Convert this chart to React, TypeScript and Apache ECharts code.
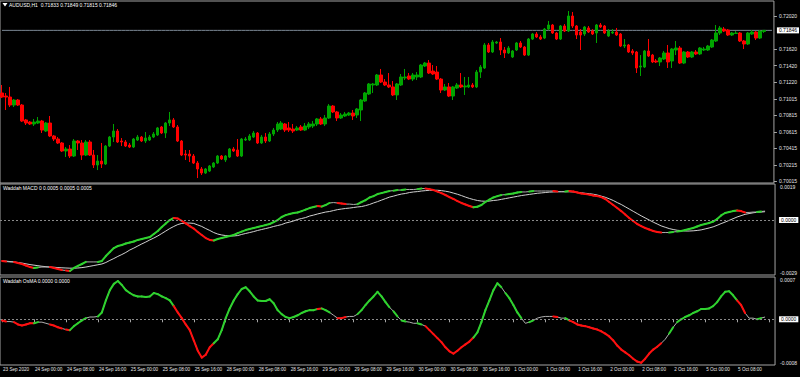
import React, { useEffect, useRef } from "react";
import * as echarts from "echarts";

// ---------- data ----------
const symbolTitle = "AUDUSD,H1";
const macdTitle = "Waddah MACD 0 0.0005 0.0005 0.0005";
const osmaTitle = "Waddah OsMA 0.0000 0.0000";

const xTickLabels = [
  "23 Sep 2020", "24 Sep 00:00", "24 Sep 08:00", "24 Sep 16:00", "25 Sep 00:00", "25 Sep 08:00",
  "25 Sep 16:00", "28 Sep 00:00", "28 Sep 08:00", "28 Sep 16:00", "29 Sep 00:00", "29 Sep 08:00",
  "29 Sep 16:00", "30 Sep 00:00", "30 Sep 08:00", "30 Sep 16:00", "1 Oct 00:00", "1 Oct 08:00",
  "1 Oct 16:00", "2 Oct 00:00", "2 Oct 08:00", "2 Oct 16:00", "5 Oct 00:00", "5 Oct 08:00",
];
const slotCount = 194;
const slots = Array.from({ length: slotCount }, (_, i) => String(i));

const priceTicks = [0.7202, 0.7162, 0.7142, 0.7122, 0.71015, 0.70815, 0.70615, 0.70415, 0.70215, 0.70015];
const priceRange = [0.69996, 0.72202];
const macdRange = [-0.0029, 0.0019];
const osmaRange = [-0.0008, 0.00074];

const open = [
  0.71087, 0.7105, 0.71038, 0.70941, 0.71002, 0.70941, 0.7076, 0.70735, 0.70711, 0.70723,
  0.70747, 0.70626, 0.70723, 0.70566, 0.70529, 0.70481, 0.70384, 0.70408, 0.70323, 0.70505,
  0.70481, 0.70335, 0.70493, 0.70335, 0.70214, 0.70262, 0.70226, 0.70444, 0.70553, 0.70626,
  0.70505, 0.70493, 0.70456, 0.70432, 0.70517, 0.70553, 0.70505, 0.70517, 0.70553, 0.70578,
  0.70675, 0.70602, 0.70723, 0.7076, 0.70675, 0.70505, 0.70347, 0.70347, 0.70323, 0.70238,
  0.70166, 0.70117, 0.70141, 0.7019, 0.70238, 0.70323, 0.70275, 0.70311, 0.70408, 0.70396,
  0.70323, 0.70517, 0.70517, 0.70553, 0.70602, 0.70481, 0.70553, 0.70505, 0.7059, 0.70638,
  0.7065, 0.70711, 0.70663, 0.7065, 0.70638, 0.70675, 0.70638, 0.70675, 0.70687, 0.70711,
  0.70772, 0.70711, 0.70784, 0.70929, 0.70857, 0.70784, 0.70808, 0.7082, 0.70844, 0.7082,
  0.70881, 0.7099, 0.71075, 0.71184, 0.71184, 0.71305, 0.7122, 0.71184, 0.7116, 0.71063,
  0.71184, 0.71269, 0.71293, 0.71256, 0.71281, 0.71281, 0.71414, 0.7145, 0.71353, 0.71341,
  0.71256, 0.71123, 0.7116, 0.7105, 0.71147, 0.71184, 0.7116, 0.7116, 0.71184, 0.7116,
  0.71341, 0.7139, 0.71669, 0.71584, 0.71693, 0.71705, 0.71608, 0.71572, 0.71523, 0.71608,
  0.71693, 0.71644, 0.71547, 0.71741, 0.71802, 0.71766, 0.71753, 0.71862, 0.71911, 0.71814,
  0.71741, 0.71899, 0.71838, 0.7202, 0.71899, 0.71826, 0.71802, 0.71875, 0.71838, 0.71814,
  0.71911, 0.71899, 0.71778, 0.71814, 0.71826, 0.71802, 0.71656, 0.71669, 0.71596, 0.71584,
  0.71402, 0.71402, 0.71596, 0.71547, 0.71475, 0.71463, 0.71499, 0.71572, 0.71475, 0.71608,
  0.71632, 0.7145, 0.71584, 0.71523, 0.71584, 0.7156, 0.71608, 0.71608, 0.71644, 0.71717,
  0.71814, 0.71862, 0.7185, 0.7179, 0.71808, 0.71814, 0.71717, 0.71681, 0.71802, 0.71826,
  0.71753, 0.71833,
];
const close = [
  0.71038, 0.71038, 0.70941, 0.71002, 0.70941, 0.70747, 0.70723, 0.70711, 0.70735, 0.70747,
  0.70638, 0.70723, 0.70566, 0.70529, 0.70481, 0.70384, 0.70408, 0.70323, 0.70505, 0.70481,
  0.70335, 0.70493, 0.70335, 0.70214, 0.70262, 0.70226, 0.70444, 0.70553, 0.70626, 0.70493,
  0.70493, 0.70444, 0.70432, 0.70529, 0.70553, 0.70505, 0.70541, 0.70553, 0.7059, 0.70663,
  0.70602, 0.70723, 0.7076, 0.70675, 0.70505, 0.70335, 0.70335, 0.70323, 0.70238, 0.70166,
  0.70117, 0.70166, 0.70202, 0.70238, 0.70323, 0.70287, 0.70323, 0.70408, 0.70384, 0.70323,
  0.70529, 0.70529, 0.70566, 0.70602, 0.70481, 0.70553, 0.70505, 0.7059, 0.70638, 0.70711,
  0.70723, 0.70638, 0.70638, 0.70626, 0.70663, 0.70638, 0.70687, 0.70711, 0.70711, 0.70772,
  0.70711, 0.70784, 0.70929, 0.70857, 0.70784, 0.7082, 0.70832, 0.70844, 0.70808, 0.70893,
  0.71002, 0.71087, 0.71196, 0.71196, 0.71305, 0.7122, 0.71184, 0.7116, 0.71063, 0.71196,
  0.71281, 0.71281, 0.71256, 0.71305, 0.71305, 0.71426, 0.7145, 0.71329, 0.71317, 0.71256,
  0.71123, 0.7116, 0.7105, 0.7116, 0.71184, 0.7116, 0.71172, 0.71184, 0.7116, 0.71341,
  0.71402, 0.71669, 0.71584, 0.71705, 0.71705, 0.71608, 0.71572, 0.71632, 0.71596, 0.71693,
  0.71644, 0.71547, 0.71741, 0.71802, 0.71766, 0.71741, 0.71862, 0.71911, 0.71814, 0.71741,
  0.71899, 0.71838, 0.7202, 0.71899, 0.7179, 0.7179, 0.71887, 0.71826, 0.71802, 0.71911,
  0.71887, 0.71814, 0.71838, 0.71826, 0.7179, 0.71656, 0.71669, 0.71584, 0.71572, 0.7139,
  0.71414, 0.71596, 0.71535, 0.71463, 0.71463, 0.71511, 0.71572, 0.71463, 0.7162, 0.71632,
  0.7145, 0.71584, 0.71523, 0.71584, 0.7156, 0.71632, 0.7162, 0.71656, 0.71729, 0.71814,
  0.71875, 0.71838, 0.7179, 0.71814, 0.71814, 0.71717, 0.71681, 0.71814, 0.71826, 0.71753,
  0.71838, 0.71846,
];
const low = [
  0.71026, 0.70881, 0.70917, 0.70917, 0.70929, 0.70735, 0.70699, 0.70699, 0.70687, 0.70711,
  0.70602, 0.70614, 0.70553, 0.70505, 0.70469, 0.70372, 0.70311, 0.70299, 0.70311, 0.70396,
  0.70275, 0.70323, 0.70323, 0.70178, 0.70153, 0.70178, 0.70214, 0.70432, 0.70493, 0.70481,
  0.70444, 0.70432, 0.7042, 0.7042, 0.70505, 0.70493, 0.70481, 0.70505, 0.70541, 0.70566,
  0.7059, 0.70541, 0.70687, 0.70663, 0.70493, 0.70323, 0.70275, 0.7025, 0.70226, 0.70056,
  0.70093, 0.70105, 0.70129, 0.70178, 0.70226, 0.70275, 0.7025, 0.70299, 0.70372, 0.70311,
  0.70311, 0.70505, 0.70505, 0.70541, 0.70469, 0.70469, 0.70481, 0.70493, 0.70566, 0.70614,
  0.70638, 0.70614, 0.70614, 0.70602, 0.70626, 0.70626, 0.70626, 0.7065, 0.70663, 0.70687,
  0.70699, 0.70687, 0.70772, 0.70844, 0.70747, 0.70772, 0.70796, 0.70808, 0.7076, 0.70784,
  0.70747, 0.70978, 0.71063, 0.71087, 0.71172, 0.71208, 0.71172, 0.71147, 0.7105, 0.71002,
  0.71172, 0.71244, 0.71244, 0.71232, 0.71244, 0.71269, 0.71402, 0.71317, 0.71305, 0.71244,
  0.71087, 0.71111, 0.71038, 0.71002, 0.71135, 0.71147, 0.71063, 0.71147, 0.71147, 0.71147,
  0.71269, 0.71378, 0.71572, 0.71572, 0.71681, 0.71547, 0.71511, 0.7156, 0.71511, 0.71596,
  0.71632, 0.71535, 0.71535, 0.71729, 0.71753, 0.71729, 0.71741, 0.7185, 0.71802, 0.71729,
  0.71729, 0.71826, 0.71826, 0.71875, 0.71741, 0.71608, 0.71778, 0.71814, 0.7179, 0.71693,
  0.71875, 0.71802, 0.71766, 0.71802, 0.71778, 0.71644, 0.71632, 0.71572, 0.71547, 0.71329,
  0.71293, 0.7139, 0.71523, 0.7145, 0.7145, 0.71414, 0.71487, 0.7139, 0.7139, 0.71547,
  0.71438, 0.71438, 0.71511, 0.71511, 0.71547, 0.71547, 0.71596, 0.71596, 0.71632, 0.71705,
  0.7179, 0.71826, 0.71778, 0.71778, 0.71802, 0.71705, 0.7162, 0.71669, 0.7179, 0.71729,
  0.71741, 0.71815,
];
const high = [
  0.71184, 0.71087, 0.7116, 0.71014, 0.71014, 0.70953, 0.70772, 0.70747, 0.70772, 0.70796,
  0.7076, 0.70735, 0.70808, 0.70578, 0.70553, 0.70493, 0.70432, 0.70456, 0.70529, 0.70517,
  0.70517, 0.70517, 0.70517, 0.70396, 0.70335, 0.70481, 0.70456, 0.70566, 0.70711, 0.7065,
  0.70541, 0.70517, 0.70481, 0.70541, 0.70578, 0.70566, 0.70614, 0.70578, 0.70614, 0.70675,
  0.70687, 0.70735, 0.70857, 0.70784, 0.70699, 0.70517, 0.70396, 0.70396, 0.70347, 0.70262,
  0.7019, 0.70178, 0.70214, 0.7025, 0.70335, 0.70335, 0.70335, 0.7042, 0.70432, 0.70529,
  0.70541, 0.70553, 0.7059, 0.70626, 0.70614, 0.70578, 0.70602, 0.70614, 0.70663, 0.70735,
  0.70747, 0.70723, 0.70735, 0.70711, 0.70687, 0.70699, 0.70723, 0.70735, 0.70747, 0.70784,
  0.70796, 0.7082, 0.70953, 0.70941, 0.70869, 0.70844, 0.70857, 0.70857, 0.70881, 0.70905,
  0.71014, 0.71099, 0.71208, 0.71208, 0.71317, 0.71378, 0.71256, 0.71329, 0.71232, 0.71208,
  0.71317, 0.71378, 0.71329, 0.71329, 0.71341, 0.71438, 0.71463, 0.71487, 0.71426, 0.71414,
  0.71269, 0.71196, 0.71208, 0.71172, 0.71208, 0.71329, 0.71281, 0.71281, 0.71208, 0.71366,
  0.71426, 0.71693, 0.71693, 0.71729, 0.71717, 0.71753, 0.71644, 0.71656, 0.71608, 0.71705,
  0.71717, 0.71656, 0.71753, 0.71814, 0.71826, 0.7179, 0.71875, 0.7196, 0.71923, 0.71826,
  0.71911, 0.71923, 0.72081, 0.72069, 0.71911, 0.71862, 0.71899, 0.71899, 0.71862, 0.71923,
  0.71935, 0.71911, 0.71862, 0.71862, 0.71875, 0.71814, 0.71741, 0.71681, 0.7162, 0.71596,
  0.71547, 0.71608, 0.71741, 0.7156, 0.71499, 0.71523, 0.71596, 0.71669, 0.71632, 0.71717,
  0.71656, 0.71596, 0.71596, 0.71596, 0.71608, 0.71644, 0.71644, 0.71669, 0.71741, 0.71911,
  0.71899, 0.71887, 0.71862, 0.71826, 0.71838, 0.71826, 0.71729, 0.71826, 0.7185, 0.71838,
  0.7185, 0.71849,
];

const macd = [
  -0.00216, -0.00219, -0.00221, -0.00221, -0.00227, -0.00232, -0.0024, -0.00248, -0.00253, -0.0025,
  -0.00248, -0.00248, -0.00248, -0.00253, -0.00258, -0.00264, -0.00266, -0.00269, -0.00253, -0.00242,
  -0.00232, -0.00221, -0.00221, -0.00221, -0.00221, -0.00216, -0.0019, -0.00169, -0.00148, -0.00137,
  -0.00132, -0.00124, -0.00119, -0.00113, -0.00105, -0.001, -0.00095, -0.0009, -0.00074, -0.00058,
  -0.00037, -0.00018, 0.0, 0.00011, 0.00008, -0.00005, -0.00018, -0.00032, -0.00045, -0.00063,
  -0.00079, -0.00095, -0.00105, -0.00108, -0.001, -0.00095, -0.0009, -0.00084, -0.00079, -0.00069,
  -0.00061, -0.00053, -0.00047, -0.00042, -0.00037, -0.00032, -0.00026, -0.00021, -0.00011, 0.0,
  0.00016, 0.00026, 0.00032, 0.00037, 0.0004, 0.00047, 0.00055, 0.00063, 0.00069, 0.00074,
  0.00071, 0.00079, 0.0009, 0.00092, 0.0009, 0.00087, 0.00084, 0.00084, 0.00082, 0.00084,
  0.00095, 0.00105, 0.00119, 0.00126, 0.00137, 0.00142, 0.00148, 0.00153, 0.00155, 0.00158,
  0.00158, 0.00161, 0.00161, 0.00161, 0.00163, 0.00166, 0.00166, 0.00163, 0.00158, 0.0015,
  0.00142, 0.00132, 0.00121, 0.00111, 0.001, 0.0009, 0.00082, 0.00074, 0.00067, 0.0007,
  0.00079, 0.00095, 0.00108, 0.00119, 0.00126, 0.00132, 0.00134, 0.00137, 0.0014, 0.00145,
  0.00148, 0.00148, 0.0015, 0.00153, 0.00153, 0.00153, 0.00153, 0.00153, 0.00153, 0.0015,
  0.0015, 0.0015, 0.00153, 0.0015, 0.00145, 0.0014, 0.00137, 0.00134, 0.00129, 0.00126,
  0.00121, 0.00111, 0.00095, 0.00079, 0.00063, 0.00047, 0.00029, 0.00011, -0.00005, -0.00021,
  -0.00032, -0.00042, -0.0005, -0.00058, -0.00063, -0.00066, -0.00066, -0.00066, -0.00063, -0.00061,
  -0.00058, -0.00053, -0.00047, -0.00042, -0.00034, -0.00026, -0.00021, -0.00016, -0.00008, 0.00005,
  0.00024, 0.00037, 0.00042, 0.00047, 0.0005, 0.00047, 0.0004, 0.0004, 0.00042, 0.00042,
  0.00045, 0.00047,
];
const signal = [
  -0.00216, -0.00217, -0.00219, -0.00221, -0.00224, -0.00227, -0.00231, -0.00235, -0.00238, -0.00241,
  -0.00244, -0.00246, -0.00248, -0.00249, -0.00251, -0.00252, -0.00253, -0.00254, -0.00254, -0.00253,
  -0.00251, -0.00248, -0.00244, -0.0024, -0.00236, -0.00232, -0.00224, -0.00213, -0.00203, -0.00192,
  -0.00182, -0.00171, -0.00158, -0.00148, -0.00137, -0.00126, -0.00116, -0.00105, -0.00095, -0.00084,
  -0.00071, -0.00058, -0.00045, -0.00034, -0.00024, -0.00018, -0.00016, -0.00016, -0.00018, -0.00026,
  -0.00034, -0.00045, -0.00055, -0.00066, -0.00074, -0.00079, -0.00082, -0.00084, -0.00084, -0.00082,
  -0.00076, -0.00071, -0.00066, -0.00061, -0.00055, -0.0005, -0.00045, -0.0004, -0.00034, -0.00029,
  -0.00024, -0.00016, -0.00011, -0.00005, 0.00003, 0.00008, 0.00013, 0.00021, 0.00026, 0.00032,
  0.00037, 0.00042, 0.00045, 0.0005, 0.00055, 0.00058, 0.00061, 0.00063, 0.00066, 0.00069,
  0.00071, 0.00076, 0.00082, 0.0009, 0.00097, 0.00105, 0.00113, 0.00121, 0.00126, 0.00132,
  0.00137, 0.0014, 0.00145, 0.00148, 0.0015, 0.00153, 0.00155, 0.00157, 0.00157, 0.00157,
  0.00155, 0.00152, 0.00148, 0.00142, 0.00136, 0.00129, 0.00121, 0.00114, 0.00108, 0.00103,
  0.001, 0.00099, 0.001, 0.00103, 0.00105, 0.00109, 0.00113, 0.00117, 0.00121, 0.00125,
  0.00129, 0.00132, 0.00135, 0.00138, 0.00141, 0.00143, 0.00145, 0.00147, 0.00148, 0.00149,
  0.00149, 0.00149, 0.00149, 0.00148, 0.00146, 0.00144, 0.00141, 0.00139, 0.00136, 0.00132,
  0.00126, 0.0012, 0.00112, 0.00103, 0.00092, 0.00082, 0.0007, 0.00058, 0.00046, 0.00034,
  0.00022, 0.00011, 0.0, -0.00011, -0.00021, -0.00031, -0.00038, -0.00045, -0.0005, -0.00054,
  -0.00056, -0.00058, -0.00058, -0.00057, -0.00055, -0.00052, -0.00047, -0.00042, -0.00036, -0.00028,
  -0.00019, -0.00011, -0.00002, 0.00007, 0.00016, 0.00023, 0.0003, 0.00034, 0.00038, 0.00041,
  0.00042, 0.00044,
];
const osma = [
  -0.00002, -0.00004, -0.00004, -0.00005, -0.00009, -0.00011, -0.00009, -0.00007, -0.00007, -0.00005,
  -0.00005, -0.00007, -0.00009, -0.00011, -0.00014, -0.00016, -0.00018, -0.00019, -0.00012, -0.00007,
  -0.00002, 0.00002, 0.00004, 0.00004, 0.00005, 0.00012, 0.00033, 0.00051, 0.00062, 0.00067,
  0.0006, 0.00051, 0.00046, 0.00042, 0.0004, 0.0004, 0.00039, 0.0004, 0.00046, 0.00044,
  0.0004, 0.00037, 0.00033, 0.00023, 0.00012, 0.00002, -0.00009, -0.00019, -0.00037, -0.00055,
  -0.00067, -0.00062, -0.00049, -0.00042, -0.00035, -0.00019, 0.00002, 0.00019, 0.00033, 0.00044,
  0.00053, 0.00056, 0.00049, 0.0004, 0.00033, 0.00032, 0.00032, 0.00035, 0.00028, 0.00016,
  0.00009, 0.00004, 0.00002, 0.00004, 0.00007, 0.00011, 0.00014, 0.00016, 0.00016, 0.00018,
  0.00019, 0.00016, 0.00012, 0.00007, 0.00002, 0.00002, 0.00004, 0.00005, 0.00005, 0.00009,
  0.00016, 0.00025, 0.00033, 0.0004, 0.00048, 0.0004, 0.0003, 0.00021, 0.00014, 0.00005,
  -0.00002, -0.00004, -0.00005, -0.00007, -0.00007, -0.00009, -0.00012, -0.00019, -0.00026, -0.00033,
  -0.0004, -0.00049, -0.00056, -0.0006, -0.00055, -0.00049, -0.00044, -0.00039, -0.00032, -0.00023,
  -0.00005, 0.00016, 0.00033, 0.00051, 0.00063, 0.00056, 0.00046, 0.00037, 0.00025, 0.00012,
  0.00002, -0.00007, -0.00005, -0.00002, 0.00002, 0.00004, 0.00005, 0.00005, 0.00005, 0.00004,
  0.00002, 0.00002, -0.00002, -0.00005, -0.00009, -0.00011, -0.00012, -0.00014, -0.00016, -0.00018,
  -0.00021, -0.00025, -0.0003, -0.00037, -0.00046, -0.00053, -0.00058, -0.00063, -0.00069, -0.00074,
  -0.00076, -0.00069, -0.0006, -0.00053, -0.00048, -0.00042, -0.00035, -0.00025, -0.00014, -0.00005,
  0.0, 0.00004, 0.00007, 0.00011, 0.00014, 0.00018, 0.00018, 0.00019, 0.00023, 0.0003,
  0.0004, 0.00048, 0.00049, 0.00042, 0.00033, 0.00025, 0.00011, 0.00002, 0.00002, 0.0,
  0.00002, 0.00004,
];

// ---------- styling ----------
const FONT = "Liberation Sans, Arial, sans-serif";
const TEXT = "#e6e6e6";
const FRAME = "#a4a4a4";
const BULL = "#00a400";
const BEAR = "#ff0000";
const UP = "#2fd22f";
const DOWN = "#ff1010";
const FLAT = "#b0b0b0";

// MACD slope state per segment (i-1 -> i): 1 rising, -1 falling, 0 flat
const slopeState = (i: number) => {
  const d = macd[i] - macd[i - 1];
  return d > 0.000025 ? 1 : d < -0.000025 ? -1 : 0;
};
const segData = (vals: number[]) =>
  vals.slice(1).map((v, k) => [k + 1, vals[k], v, slopeState(k + 1)]);

const segRender = (params: any, api: any) => {
  const st = api.value(3);
  if (!st) return null;
  const i = api.value(0);
  const a = api.coord([i - 1, api.value(1)]);
  const b = api.coord([i, api.value(2)]);
  return {
    type: "line",
    shape: { x1: a[0], y1: a[1], x2: b[0], y2: b[1] },
    style: { stroke: st > 0 ? UP : DOWN, lineWidth: 2, lineCap: "round" },
  };
};

const boxStyle = {
  backgroundColor: "#ffffff",
  color: "#000000",
  fontSize: 5,
  fontFamily: FONT,
  padding: [1, 2, 0, 2],
};

const zeroMark = () => ({
  silent: true,
  symbol: "none",
  lineStyle: { color: "#8a8a8a", type: [2, 2], width: 1 },
  label: { show: true, position: "end", formatter: "0.0000", distance: 4, ...boxStyle },
  data: [{ yAxis: 0 }],
});

export default function App() {
  const ref = useRef<HTMLDivElement>(null);
  useEffect(() => {
    const chart = echarts.init(ref.current as HTMLDivElement, null, { renderer: "svg" });
    const last = close.length - 1;
    const header = `${symbolTitle}  ${open[last].toFixed(5)} ${high[last].toFixed(5)} ${low[last].toFixed(5)} ${close[last].toFixed(5)}`;

    const gridBase = { left: 0, width: 777, show: true, borderColor: FRAME, borderWidth: 1 };
    const xBase = (g: number) => ({
      type: "category",
      gridIndex: g,
      data: slots,
      boundaryGap: true,
      axisLine: { show: false },
      splitLine: { show: false },
      axisTick:
        g === 2
          ? { show: true, interval: 7, alignWithLabel: true, length: 3, lineStyle: { color: FRAME } }
          : { show: false },
      axisLabel:
        g === 2
          ? {
              show: true,
              interval: 7,
              formatter: (_v: string, idx: number) => xTickLabels[idx / 8] ?? "",
              align: "left",
              color: TEXT,
              fontSize: 4.6,
              fontFamily: FONT,
              margin: 2,
              padding: [0, 0, 0, 1],
            }
          : { show: false },
    });
    const yLabel = { color: TEXT, fontSize: 5, fontFamily: FONT, margin: 5 };

    chart.setOption({
      animation: false,
      backgroundColor: "#000000",
      grid: [
        { ...gridBase, top: 1, height: 182 },
        { ...gridBase, top: 184, height: 91 },
        { ...gridBase, top: 277, height: 88 },
      ],
      xAxis: [xBase(0), xBase(1), xBase(2)],
      yAxis: [
        {
          type: "value",
          gridIndex: 0,
          position: "right",
          min: priceRange[0],
          max: priceRange[1],
          splitLine: { show: false },
          axisLine: { show: false },
          axisTick: { show: true, length: 3, lineStyle: { color: FRAME }, customValues: priceTicks },
          axisLabel: { ...yLabel, customValues: priceTicks, formatter: (v: number) => v.toFixed(5) },
        },
        {
          type: "value",
          gridIndex: 1,
          position: "right",
          min: macdRange[0],
          max: macdRange[1],
          splitLine: { show: false },
          axisLine: { show: false },
          axisTick: { show: false },
          axisLabel: {
            ...yLabel,
            customValues: [macdRange[0], macdRange[1]],
            formatter: (v: number) => v.toFixed(4),
            verticalAlignMinLabel: "bottom",
            verticalAlignMaxLabel: "top",
          },
        },
        {
          type: "value",
          gridIndex: 2,
          position: "right",
          min: osmaRange[0],
          max: osmaRange[1],
          splitLine: { show: false },
          axisLine: { show: false },
          axisTick: { show: false },
          axisLabel: {
            ...yLabel,
            customValues: [osmaRange[0], osmaRange[1]],
            formatter: (v: number) => v.toFixed(4),
            verticalAlignMinLabel: "bottom",
            verticalAlignMaxLabel: "top",
          },
        },
      ],
      series: [
        {
          // current-price level line (last close), labelled at its right end
          type: "line",
          xAxisIndex: 0,
          yAxisIndex: 0,
          data: slots.map(() => close[last]),
          symbol: "none",
          silent: true,
          lineStyle: { color: "#7a8794", width: 1 },
          z: 2,
          endLabel: { show: true, formatter: close[last].toFixed(5), distance: 5, ...boxStyle },
        },
        {
          type: "candlestick",
          xAxisIndex: 0,
          yAxisIndex: 0,
          barWidth: 3,
          data: open.map((o, i) => [o, close[i], low[i], high[i]]),
          itemStyle: { color: BULL, color0: BEAR, borderColor: BULL, borderColor0: BEAR, borderWidth: 1 },
          z: 3,
        },
        {
          type: "line",
          xAxisIndex: 1,
          yAxisIndex: 1,
          data: signal,
          symbol: "none",
          lineStyle: { color: "#d0d0d0", width: 1 },
          z: 2,
          markLine: zeroMark(),
        },
        {
          type: "line",
          xAxisIndex: 1,
          yAxisIndex: 1,
          data: macd,
          symbol: "none",
          lineStyle: { color: FLAT, width: 1 },
          z: 3,
        },
        {
          type: "custom",
          xAxisIndex: 1,
          yAxisIndex: 1,
          data: segData(macd),
          encode: { x: 0, y: [1, 2] },
          renderItem: segRender,
          z: 4,
        },
        {
          type: "line",
          xAxisIndex: 2,
          yAxisIndex: 2,
          data: osma,
          symbol: "none",
          lineStyle: { color: FLAT, width: 1 },
          z: 3,
          markLine: zeroMark(),
        },
        {
          type: "custom",
          xAxisIndex: 2,
          yAxisIndex: 2,
          data: segData(osma),
          encode: { x: 0, y: [1, 2] },
          renderItem: segRender,
          z: 4,
        },
      ],
      graphic: [
        { type: "polygon", shape: { points: [[2.5, 3], [7.5, 3], [5, 6.5]] }, style: { fill: "#ffffff" } },
        { type: "text", x: 9, y: 5, style: { text: header, fill: "#ffffff", font: `5px ${FONT}`, verticalAlign: "middle" } },
        { type: "text", x: 3, y: 188, style: { text: macdTitle, fill: "#ffffff", font: `5px ${FONT}`, verticalAlign: "middle" } },
        { type: "text", x: 3, y: 281, style: { text: osmaTitle, fill: "#ffffff", font: `5px ${FONT}`, verticalAlign: "middle" } },
      ],
    });
    return () => chart.dispose();
  }, []);
  return (
    <div
      ref={ref}
      style={{ position: "absolute", left: 0, top: 0, width: 800, height: 377, background: "#000" }}
    />
  );
}
